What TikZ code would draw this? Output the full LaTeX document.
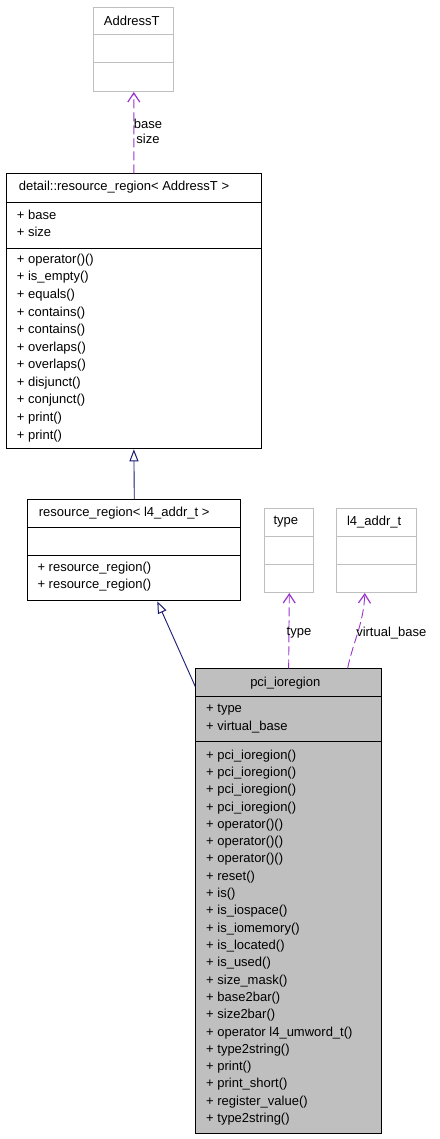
\documentclass[tikz,border=0pt]{standalone}
\usepackage{fontspec}
\setmainfont{Liberation Sans}
\usetikzlibrary{arrows.meta,calc}
\definecolor{depc}{HTML}{9A32CD}
\definecolor{inhc}{HTML}{191970}
\definecolor{lgray}{HTML}{BFBFBF}
\begin{document}
\begin{tikzpicture}[x=1pt,y=-1pt,
  every node/.style={font=\fontsize{13}{14}\selectfont, inner sep=0pt},
  clsbox/.style={draw=black, line width=1pt, anchor=north west, inner sep=0pt},
  extbox/.style={draw=lgray, line width=1pt, anchor=north west, inner sep=0pt},
  member/.style={anchor=west},
  ttl/.style={anchor=center},
  deparrow/.style={depc, line width=0.9pt, dash pattern=on 9pt off 4pt, -{Straight Barb[length=9pt,width=12pt,line width=1.2pt]}},
  inharrow/.style={inhc, line width=0.9pt, -{Triangle[open,length=12pt,width=9pt,line width=1pt,fill=white]}},
  elabel/.style={anchor=center, align=center}
]
\useasboundingbox (0,0) rectangle (439,1139);

% ---- AddressT
\node[extbox, minimum width=80pt, minimum height=83.7pt] (addr) at (93.3,7.3) {};
\draw[lgray, line width=1pt] (addr.west |- 0,35) -- (addr.east |- 0,35);
\draw[lgray, line width=1pt] (addr.west |- 0,63) -- (addr.east |- 0,63);
\node[ttl] (addrT) at (131.8,20.7) {AddressT};

% ---- detail::resource_region
\node[clsbox, minimum width=255.3pt, minimum height=275pt] (detail) at (5.7,173.3) {};
\draw[line width=1pt] (detail.west |- 0,202.3) -- (detail.east |- 0,202.3);
\draw[line width=1pt] (detail.west |- 0,248.3) -- (detail.east |- 0,248.3);
\node[ttl] (detailT) at (124,186.7) {detail::resource\_region< AddressT >};
\foreach \t [count=\i from 0] in {{+ base},{+ size}}
  \node[member] (da\i) at (16.7,215+16.7*\i) {\t};
\foreach \t [count=\i from 0] in {{+ operator()()},{+ is\_empty()},{+ equals()},{+ contains()},{+ contains()},{+ overlaps()},{+ overlaps()},{+ disjunct()},{+ conjunct()},{+ print()},{+ print()}}
  \node[member] (dm\i) at (16.7,260+17.57*\i) {\t};

% ---- resource_region< l4_addr_t >
\node[clsbox, minimum width=213pt, minimum height=101pt] (rr) at (27.3,499.3) {};
\draw[line width=1pt] (rr.west |- 0,527.3) -- (rr.east |- 0,527.3);
\draw[line width=1pt] (rr.west |- 0,555.3) -- (rr.east |- 0,555.3);
\node[ttl] (rrT) at (124.2,513.3) {resource\_region< l4\_addr\_t >};
\foreach \t [count=\i from 0] in {{+ resource\_region()},{+ resource\_region()}}
  \node[member] (rm\i) at (37.3,568.3+16.7*\i) {\t};

% ---- type
\node[extbox, minimum width=49pt, minimum height=83.7pt] (type) at (264.3,508.3) {};
\draw[lgray, line width=1pt] (type.west |- 0,536.3) -- (type.east |- 0,536.3);
\draw[lgray, line width=1pt] (type.west |- 0,564.3) -- (type.east |- 0,564.3);
\node[ttl] (typeT) at (285.8,521.7) {type};

% ---- l4_addr_t
\node[extbox, minimum width=80pt, minimum height=83.7pt] (l4) at (336.3,508.3) {};
\draw[lgray, line width=1pt] (l4.west |- 0,536.3) -- (l4.east |- 0,536.3);
\draw[lgray, line width=1pt] (l4.west |- 0,564.3) -- (l4.east |- 0,564.3);
\node[ttl] (l4T) at (374.2,521.7) {l4\_addr\_t};

% ---- pci_ioregion
\node[clsbox, fill=lgray, minimum width=185.7pt, minimum height=465pt] (pci) at (195.3,668.3) {};
\draw[line width=1pt] (pci.west |- 0,696.7) -- (pci.east |- 0,696.7);
\draw[line width=1pt] (pci.west |- 0,741) -- (pci.east |- 0,741);
\node[ttl] (pciT) at (285.3,682.7) {pci\_ioregion};
\foreach \t [count=\i from 0] in {{+ type},{+ virtual\_base}}
  \node[member] (pa\i) at (206,709.3+17.3*\i) {\t};
\foreach \t [count=\i from 0] in {{+ pci\_ioregion()},{+ pci\_ioregion()},{+ pci\_ioregion()},{+ pci\_ioregion()},{+ operator()()},{+ operator()()},{+ operator()()},{+ reset()},{+ is()},{+ is\_iospace()},{+ is\_iomemory()},{+ is\_located()},{+ is\_used()},{+ size\_mask()},{+ base2bar()},{+ size2bar()},{+ operator l4\_umword\_t()},{+ type2string()},{+ print()},{+ print\_short()},{+ register\_value()},{+ type2string()}}
  \node[member] (pm\i) at (206,755.7+17.31*\i) {\t};

% ---- connectors
\draw[deparrow] (detail.north) -- (addr.south);
\node[elabel] (lbs) at (148,131.5) {base\\[1pt]size};

\draw[inharrow] (rr.north) -- (detail.south);

\draw[inharrow] ([yshift=-18.3pt]pci.north west) -- ([xshift=23pt]rr.south);

\draw[deparrow] (pci.north) -- (type.south);
\node[elabel] (lt) at (299,633) {type};

\draw[deparrow] ([xshift=59pt]pci.north) .. controls ([xshift=64pt,yshift=25pt]pci.north) and ([xshift=-13pt,yshift=-30pt]l4.south) .. ([xshift=-12pt]l4.south);
\node[elabel] (lv) at (391.3,632.7) {virtual\_base};
\end{tikzpicture}
\end{document}
